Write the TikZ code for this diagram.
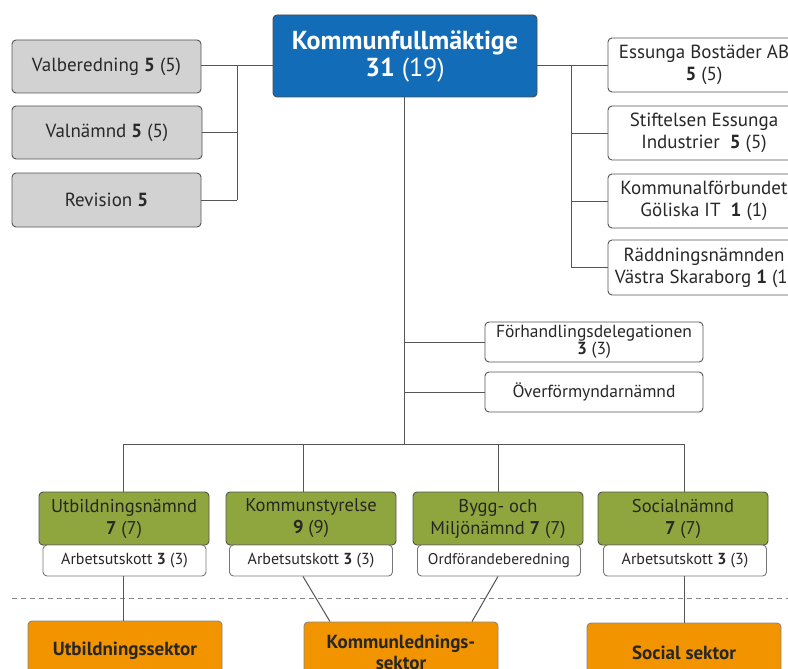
\documentclass[tikz,border=0pt]{standalone}
\usepackage{fontspec}
\setmainfont{PT Sans}
\definecolor{kblue}{RGB}{18,108,184}
\definecolor{kgreen}{RGB}{143,165,62}
\definecolor{korange}{RGB}{242,148,0}
\definecolor{kgray}{RGB}{210,210,210}
\definecolor{kline}{RGB}{85,85,85}
\definecolor{ktext}{RGB}{40,40,40}
\begin{document}
\begin{tikzpicture}[x=1pt,y=-1pt,
  box/.style={draw=kline, line width=0.9pt, rounded corners=4pt, align=center, inner sep=1pt, text=ktext},
  graybox/.style={box, fill=kgray, minimum width=189pt, minimum height=53pt, font=\fontsize{19}{22}\selectfont},
  whitebox/.style={box, fill=white, font=\fontsize{19}{22}\selectfont},
  greenbox/.style={box, fill=kgreen, minimum width=170pt, minimum height=53pt, font=\fontsize{18.5}{22}\selectfont, text=black!85},
  subbox/.style={box, fill=white, draw=kline!80, minimum width=163pt, minimum height=31pt, font=\fontsize{16}{18}\selectfont},
  orangebox/.style={box, fill=korange, draw=kline!70, minimum width=194pt, minimum height=60pt, font=\bfseries\fontsize{19}{21}\selectfont, text=black!85},
  conn/.style={draw=kline, line width=1pt}]
\useasboundingbox (0,0) rectangle (788,669);
\clip (0,0) rectangle (788,669);
\fill[white] (0,0) rectangle (788,669);

% top
\node[box, fill=kblue, draw=black!70, text=white, minimum width=264pt, minimum height=82pt, font=\fontsize{26}{27}\selectfont] (kf) at (405,56) {\textbf{Kommunfullmäktige}\\\textbf{31} (19)};

% left gray
\node[graybox] (valb) at (106.5,66.5) {Valberedning \textbf{5} (5)};
\node[graybox, minimum width=190pt] (valn) at (107,132.5) {Valnämnd \textbf{5} (5)};
\node[graybox, minimum height=54pt] (rev) at (106.5,200) {Revision \textbf{5}};

% right white
\node[whitebox, minimum width=192pt, minimum height=54pt] (ess) at (704,65) {Essunga Bostäder AB\\\textbf{5} (5)};
\node[whitebox, minimum width=192pt, minimum height=54pt] (stif) at (704,133) {Stiftelsen Essunga\\Industrier\ \ \textbf{5} (5)};
\node[whitebox, minimum width=192pt, minimum height=54pt] (gol) at (704,201) {Kommunalförbundet\\Göliska IT\ \ \textbf{1} (1)};
\node[whitebox, minimum width=192pt, minimum height=55pt] (rad) at (704,267.5) {Räddningsnämnden\\Västra Skaraborg \textbf{1} (1)};

% middle
\node[whitebox, minimum width=218pt, minimum height=40pt, font=\fontsize{17.5}{17}\selectfont] (forh) at (594,342) {Förhandlingsdelegationen\\\textbf{3} (3)};
\node[whitebox, minimum width=218pt, minimum height=40pt, font=\fontsize{17.5}{17}\selectfont] (over) at (594,392) {Överförmyndarnämnd};

% green
\node[greenbox] (utb) at (124,518.5) {Utbildningsnämnd\\\textbf{7} (7)};
\node[greenbox] (ks) at (311,518.5) {Kommunstyrelse\\\textbf{9} (9)};
\node[greenbox] (bygg) at (498,518.5) {Bygg- och\\Miljönämnd \textbf{7} (7)};
\node[greenbox] (soc) at (683,518.5) {Socialnämnd\\\textbf{7} (7)};

\node[subbox] (utbs) at (124.5,560.5) {Arbetsutskott \textbf{3} (3)};
\node[subbox] (kss) at (311,560.5) {Arbetsutskott \textbf{3} (3)};
\node[subbox, font=\fontsize{15.5}{18}\selectfont] (byggs) at (499,560.5) {Ordförandeberedning};
\node[subbox] (socs) at (685,560.5) {Arbetsutskott \textbf{3} (3)};

% dashed separator
\coordinate (dl) at (12,598);
\coordinate (dr) at (788,598);
\draw[kline!70, line width=1pt, dash pattern=on 5pt off 4pt] (dl) -- (dr);

% orange
\node[orangebox] (utbsek) at (125,651) {Utbildningssektor};
\node[orangebox] (kled) at (401,652) {Kommunlednings-\\sektor};
\node[orangebox] (socsek) at (684,653) {Social sektor};

% connectors top-left
\coordinate (lbus) at (237,66);
\draw[conn] (kf.west |- lbus) -- (valb.east |- lbus);
\draw[conn] (lbus) -- (lbus |- rev.east);
\draw[conn] (lbus |- valn.east) -- (valn.east);
\draw[conn] (lbus |- rev.east) -- (rev.east);

% connectors top-right
\coordinate (rbus) at (571,66);
\draw[conn] (kf.east |- rbus) -- (ess.west |- rbus);
\draw[conn] (rbus) -- (rbus |- rad.west);
\draw[conn] (rbus |- stif.west) -- (stif.west);
\draw[conn] (rbus |- gol.west) -- (gol.west);
\draw[conn] (rbus |- rad.west) -- (rad.west);

% main trunk
\coordinate (trunk) at (404,444);
\draw[conn] (kf.south -| trunk) -- (trunk);
\draw[conn] (trunk |- forh.west) -- (forh.west);
\draw[conn] (trunk |- over.west) -- (over.west);

% bus
\coordinate (b1) at (123,444);
\coordinate (b2) at (303,444);
\coordinate (b3) at (498,444);
\coordinate (b4) at (684,444);
\draw[conn] (b1) -- (b4);
\draw[conn] (b1) -- (b1 |- utb.north);
\draw[conn] (b2) -- (b2 |- ks.north);
\draw[conn] (b3) -- (b3 |- bygg.north);
\draw[conn] (b4) -- (b4 |- soc.north);

% to sectors
\draw[conn] ([xshift=-1.5pt]utbs.south) -- ([xshift=-2pt]utbsek.north);
\draw[conn] ([xshift=-8pt]kss.south) -- ([xshift=-71pt]kled.north);
\draw[conn] ([xshift=-1pt]byggs.south) -- ([xshift=71pt]kled.north);
\draw[conn] ([xshift=-1pt]socs.south) -- (socsek.north);
\end{tikzpicture}
\end{document}
